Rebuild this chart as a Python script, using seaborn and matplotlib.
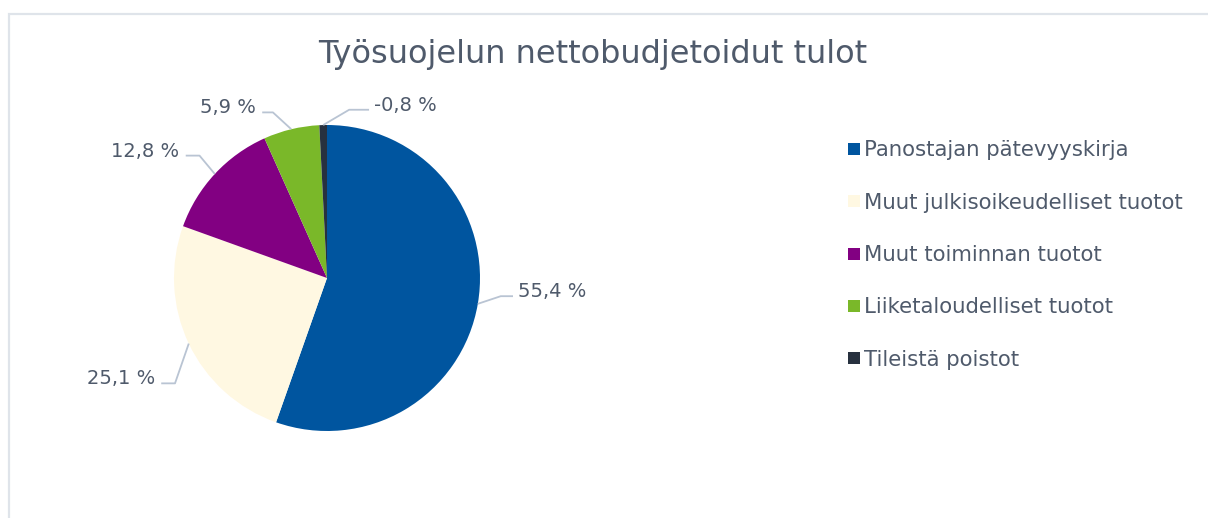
import numpy as np
import matplotlib
matplotlib.use("Agg")
import matplotlib.pyplot as plt
import seaborn as sns
from matplotlib.patches import Rectangle
from matplotlib.lines import Line2D

categories = ["Panostajan pätevyyskirja", "Muut julkisoikeudelliset tuotot",
              "Muut toiminnan tuotot", "Liiketaloudelliset tuotot", "Tileistä poistot"]
shares = [55.4, 25.1, 12.8, 5.9, -0.8]
label_texts = ["55,4 %", "25,1 %", "12,8 %", "5,9 %", "-0,8 %"]
colors = ["#00559F", "#FFF8E2", "#820082", "#7AB829", "#27313F"]

# leader line shape per label: elbow offset from the edge point and horizontal run
elbows = [(0.15, 0.05, 0.08), (-0.09, -0.26, -0.09), (-0.10, 0.12, -0.09),
          (-0.12, 0.11, -0.07), (0.17, 0.10, 0.13)]

sns.set_theme(style="white")
plt.rcParams["font.family"] = ["DejaVu Sans"]
text_col = "#4F5A6B"
line_col = "#B9C4D3"

fig = plt.figure(figsize=(12.08, 5.18), dpi=100)
fig.patches.append(Rectangle((9 / 1208, -0.1), 1.2, (518 - 14) / 518 + 0.1,
                             transform=fig.transFigure, fill=False,
                             edgecolor="#DFE4EA", linewidth=1.6))

R = 153
cx, cy = 327, 518 - 278
span = 1.45
ax = fig.add_axes([(cx - span * R) / 1208, (cy - span * R) / 518,
                   2 * span * R / 1208, 2 * span * R / 518])

sizes = np.abs(shares)
wedges, _ = ax.pie(sizes, colors=colors, startangle=90, counterclock=False,
                   radius=1.0, wedgeprops=dict(linewidth=0))
ax.set_xlim(-span, span)
ax.set_ylim(-span, span)
ax.set_aspect("equal")
ax.axis("off")

for w, txt, (dx, dy, run) in zip(wedges, label_texts, elbows):
    ang = np.deg2rad((w.theta1 + w.theta2) / 2)
    x0, y0 = np.cos(ang), np.sin(ang)
    x1, y1 = x0 + dx, y0 + dy
    x2 = x1 + run
    ax.plot([x0, x1, x2], [y0, y1, y1], color=line_col, lw=1.3,
            solid_capstyle="butt", clip_on=False)
    if run > 0:
        ax.text(x2 + 0.03, y1 + 0.03, txt, ha="left", va="center",
                fontsize=14, color=text_col, clip_on=False)
    else:
        ax.text(x2 - 0.04, y1 + 0.03, txt, ha="right", va="center",
                fontsize=14, color=text_col, clip_on=False)

fig.text(593 / 1208, 1 - 54 / 518, "Työsuojelun nettobudjetoidut tulot",
         ha="center", va="center", fontsize=23, color=text_col)

handles = [Line2D([0], [0], marker="s", linestyle="", markersize=8,
                  markerfacecolor=c, markeredgewidth=0) for c in colors]
fig.legend(handles, categories, loc="upper left",
           bbox_to_anchor=(840 / 1208, 1 - 132 / 518), frameon=False,
           fontsize=15.3, labelcolor=text_col, handlelength=0.55,
           handletextpad=0.2, labelspacing=1.52, borderaxespad=0)

fig.savefig("out.png", dpi=100, facecolor="white")
